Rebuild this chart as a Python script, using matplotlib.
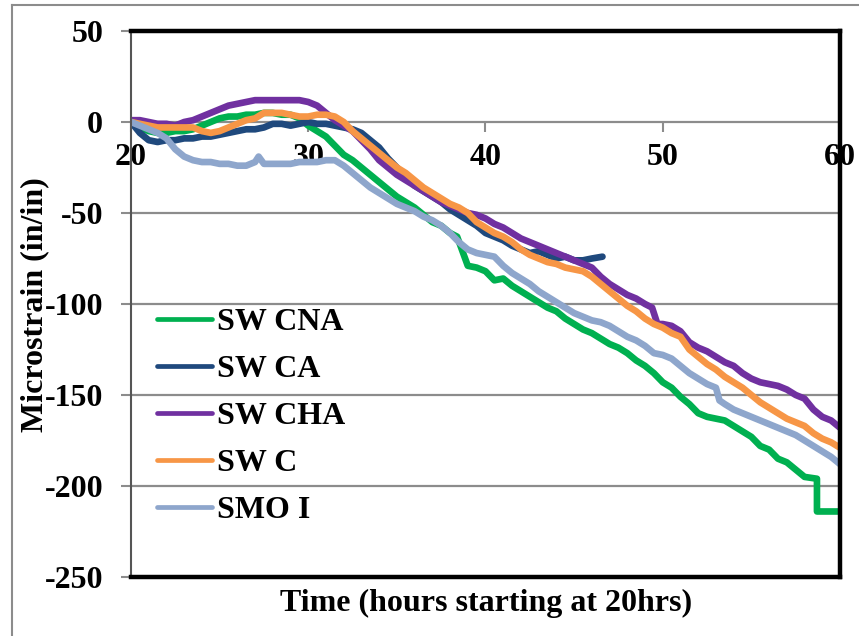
import matplotlib
matplotlib.use("Agg")
import matplotlib.pyplot as plt
from matplotlib.lines import Line2D

# ─── Data ────────────────────────────────────────────────────────────────────
cna_t = [20, 20.5, 21, 21.5, 22, 22.5, 23, 23.5, 24, 24.5, 25, 25.5, 26, 26.5, 27, 27.5,
         28, 28.5, 29, 29.5, 30, 30.5, 31, 31.5, 32, 32.5, 33, 33.5, 34, 34.5, 35, 35.5,
         36, 36.5, 37, 37.5, 38, 38.4, 38.7, 39, 39.5, 40, 40.5, 41, 41.5, 42, 42.5, 43,
         43.5, 44, 44.5, 45, 45.5, 46, 46.5, 47, 47.5, 48, 48.5, 49, 49.5, 50, 50.5, 51,
         51.5, 52, 52.5, 53, 53.5, 54, 54.5, 55, 55.5, 56, 56.5, 57, 57.5, 58, 58.7, 58.7, 60]
cna_v = [0, -3, -5, -6, -6, -5, -5, -4, -2, 0, 2, 3, 3, 4, 4, 5,
         5, 4, 4, 2, -2, -5, -8, -13, -18, -21, -25, -29, -33, -37, -41, -44,
         -47, -51, -55, -57, -61, -63, -71, -79, -80, -82, -87, -86, -90, -93, -96, -99,
         -102, -104, -108, -111, -114, -116, -119, -122, -124, -127, -131, -134, -138, -143, -146, -151,
         -155, -160, -162, -163, -164, -167, -170, -173, -178, -180, -185, -187, -191, -195, -196, -214, -214]

ca_t = [20, 20.5, 21, 21.5, 22, 22.5, 23, 23.5, 24, 24.5, 25, 25.5, 26, 26.5, 27, 27.5,
        28, 28.5, 29, 29.5, 30, 30.5, 31, 31.5, 32, 32.5, 33, 33.5, 34, 34.5, 35, 35.5,
        36, 36.5, 37, 37.5, 38, 38.5, 39, 39.5, 40, 40.5, 41, 41.5, 42, 42.5, 43, 43.5,
        44, 44.5, 45, 45.5, 46, 46.6]
ca_v = [0, -6, -10, -11, -10, -10, -9, -9, -8, -8, -7, -6, -5, -4, -4, -3,
        -1, -1, -2, -1, 0, -1, -1, -2, -3, -4, -6, -10, -14, -20, -25, -30,
        -35, -38, -41, -44, -48, -51, -54, -57, -61, -63, -65, -68, -70, -72, -71, -73,
        -75, -74, -76, -76, -75, -74]

cha_t = [20, 20.5, 21, 21.5, 22, 22.5, 23, 23.5, 24, 24.5, 25, 25.5, 26, 26.5, 27, 27.5,
         28, 28.5, 29, 29.5, 30, 30.5, 31, 31.5, 32, 32.5, 33, 33.5, 34, 34.5, 35, 35.5,
         36, 36.5, 37, 37.5, 38, 38.5, 39, 39.5, 40, 40.5, 41, 41.5, 42, 42.5, 43, 43.5,
         44, 44.5, 45, 45.5, 46, 46.5, 47, 47.5, 48, 48.5, 49, 49.4, 49.7, 50, 50.5, 51,
         51.5, 52, 52.5, 53, 53.5, 54, 54.5, 55, 55.5, 56, 56.5, 57, 57.5, 58, 58.5, 59,
         59.5, 60]
cha_v = [1, 1, 0, -1, -1, -2, 0, 1, 3, 5, 7, 9, 10, 11, 12, 12,
         12, 12, 12, 12, 11, 9, 5, 1, -2, -5, -10, -15, -21, -25, -29, -32,
         -35, -38, -41, -44, -46, -48, -50, -51, -53, -56, -58, -61, -64, -66, -68, -70,
         -72, -74, -76, -78, -80, -85, -89, -92, -95, -97, -100, -102, -111, -111, -112, -115,
         -121, -124, -126, -129, -132, -134, -138, -141, -143, -144, -145, -147, -150, -152, -158, -162,
         -164, -168]

c_t = [20, 20.5, 21, 21.5, 22, 22.5, 23, 23.5, 24, 24.5, 25, 25.5, 26, 26.5, 27, 27.5,
       28, 28.5, 29, 29.5, 30, 30.5, 31, 31.5, 32, 32.5, 33, 33.5, 34, 34.5, 35, 35.5,
       36, 36.5, 37, 37.5, 38, 38.5, 39, 39.5, 40, 40.5, 41, 41.5, 42, 42.5, 43, 43.5,
       44, 44.5, 45, 45.5, 46, 46.5, 47, 47.5, 48, 48.5, 49, 49.5, 50, 50.5, 51, 51.5,
       52, 52.5, 53, 53.5, 54, 54.5, 55, 55.5, 56, 56.5, 57, 57.5, 58, 58.5, 59, 59.5, 60]
c_v = [0, -1, -2, -3, -3, -3, -3, -3, -5, -6, -5, -3, -1, 1, 2, 5,
       5, 5, 4, 3, 3, 4, 4, 3, 0, -5, -9, -13, -17, -21, -25, -28,
       -32, -36, -39, -42, -45, -47, -50, -55, -58, -61, -63, -66, -70, -73, -75, -77,
       -78, -80, -81, -82, -85, -89, -93, -97, -101, -104, -108, -111, -113, -116, -118, -125,
       -129, -133, -136, -140, -143, -146, -150, -154, -157, -160, -163, -165, -167, -171, -174, -176, -179]

smo_t = [20, 20.5, 21, 21.5, 22, 22.5, 23, 23.5, 24, 24.5, 25, 25.5, 26, 26.5, 27, 27.2,
         27.5, 28, 28.5, 29, 29.5, 30, 30.5, 31, 31.5, 32, 32.5, 33, 33.5, 34, 34.5, 35,
         35.5, 36, 36.5, 37, 37.5, 38, 38.5, 39, 39.5, 40, 40.5, 41, 41.5, 42, 42.5, 43,
         43.5, 44, 44.5, 45, 45.5, 46, 46.5, 47, 47.5, 48, 48.5, 49, 49.5, 50, 50.5, 51,
         51.5, 52, 52.5, 53, 53.2, 53.5, 54, 54.5, 55, 55.5, 56, 56.5, 57, 57.5, 58, 58.5,
         59, 59.5, 60]
smo_v = [0, -2, -4, -6, -9, -15, -19, -21, -22, -22, -23, -23, -24, -24, -22, -19,
         -23, -23, -23, -23, -22, -22, -22, -21, -21, -24, -28, -32, -36, -39, -42, -45,
         -47, -49, -52, -54, -57, -61, -66, -70, -72, -73, -74, -79, -83, -86, -89, -93,
         -96, -99, -102, -105, -107, -109, -110, -112, -115, -118, -120, -123, -127, -128, -130, -134,
         -138, -141, -144, -146, -153, -155, -158, -160, -162, -164, -166, -168, -170, -172, -175, -178,
         -181, -184, -188]

series = [
    ("SW CNA", cna_t, cna_v, "#00B050"),
    ("SW CA", ca_t, ca_v, "#1F497D"),
    ("SW CHA", cha_t, cha_v, "#7030A0"),
    ("SW C", c_t, c_v, "#F79646"),
    ("SMO I", smo_t, smo_v, "#8EA6CC"),
]

x_ticks = [20, 30, 40, 50, 60]
y_ticks = [-250, -200, -150, -100, -50, 0, 50]

# ─── Figure ──────────────────────────────────────────────────────────────────
plt.rcParams["font.family"] = ["Liberation Serif", "DejaVu Serif"]
plt.rcParams["font.weight"] = "bold"
plt.rcParams["axes.unicode_minus"] = False

FS = 23
W, H = 859, 636
fig = plt.figure(figsize=(W / 100, H / 100), dpi=100)
ax = fig.add_axes([131 / W, 1 - 577 / H, (840 - 131) / W, (577 - 31) / H])

for name, t, v, col in series:
    ax.plot(t, v, color=col, lw=4.8, label=name, solid_joinstyle="round",
            solid_capstyle="round")

ax.set_xlim(20, 60)
ax.set_ylim(-250, 50)
ax.set_xticks(x_ticks)
ax.set_yticks(y_ticks)

for y in [-200, -150, -100, -50]:
    ax.axhline(y, color="#8C8C8C", lw=1.6, zorder=0)

# x axis crosses at 0
ax.spines["bottom"].set_position(("data", 0))
ax.spines["bottom"].set_color("#8C8C8C")
ax.spines["bottom"].set_linewidth(1.6)
ax.spines["bottom"].set_zorder(0.5)
ax.spines["top"].set_visible(False)
ax.spines["right"].set_visible(False)
ax.spines["left"].set_color("#555555")
ax.spines["left"].set_linewidth(1.5)

ax.tick_params(axis="x", direction="out", length=7, width=1.5, color="#8C8C8C",
               labelsize=FS, pad=8)
ax.tick_params(axis="y", direction="out", length=7, width=1.5, color="#8C8C8C",
               labelsize=FS, pad=13)

# plot area border (top, right, bottom)
border = dict(color="black", lw=3.2, transform=ax.transAxes, clip_on=False, zorder=5)
ax.add_line(Line2D([0, 1], [1, 1], **border))
ax.add_line(Line2D([1, 1], [0, 1], **border))
ax.add_line(Line2D([0, 1], [0, 0], **border))

leg = ax.legend(loc="upper left", bbox_to_anchor=(0.036, 0.493), frameon=False,
                fontsize=FS, handlelength=1.75, handletextpad=0.15, labelspacing=0.55,
                borderpad=0, borderaxespad=0)
for h in leg.get_lines():
    h.set_linewidth(3.4)

fig.text(486 / W, 1 - 603 / H, "Time (hours starting at 20hrs)", ha="center", va="center",
         fontsize=FS, fontweight="bold")
fig.text(35 / W, 1 - 305 / H, "Microstrain (in/in)", ha="center", va="center",
         rotation=90, fontsize=FS, fontweight="bold")

# outer chart border
fig.add_artist(Line2D([12 / W, 12 / W], [0, 1 - 5 / H], color="#8C8C8C", lw=1.5))
fig.add_artist(Line2D([12 / W, 1], [1 - 5 / H, 1 - 5 / H], color="#8C8C8C", lw=1.5))

fig.savefig("out.png", dpi=100)
